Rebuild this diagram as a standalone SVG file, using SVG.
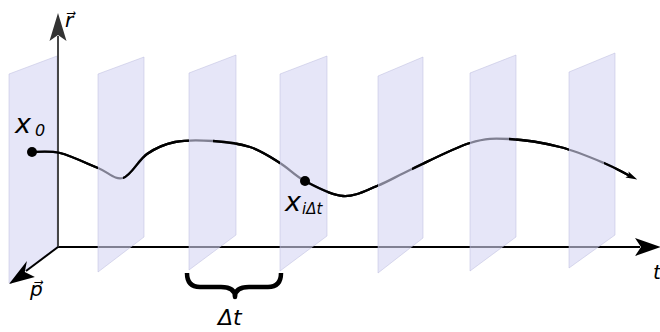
<svg xmlns="http://www.w3.org/2000/svg" width="660" height="332" viewBox="0 0 660 332">
<style>
.plane{fill:#d5d5f3;fill-opacity:0.6;stroke:#b8b8dc;stroke-opacity:0.6;stroke-width:0.8}
.curve{fill:none;stroke:#000;stroke-width:2.3}
.lbl{font-family:"DejaVu Sans",sans-serif;font-style:italic;fill:#000}
</style>
<defs>
<marker id="cend" viewBox="0 0 10 6" refX="2" refY="3" markerWidth="5" markerHeight="3" orient="auto" markerUnits="strokeWidth">
<path d="M0,0 L10,3 L0,6 L2,3 Z" fill="#000"/>
</marker>
<clipPath id="front">
<rect x="0" y="0" width="98" height="332"/>
<rect x="123" y="0" width="66" height="332"/>
<rect x="213" y="0" width="67" height="332"/>
<rect x="305" y="0" width="73" height="332"/>
<rect x="412" y="0" width="58" height="332"/>
<rect x="509" y="0" width="60" height="332"/>
<rect x="604" y="0" width="56" height="332"/>
</clipPath>
<path id="traj" d="M32,152 C36.7,152 49,150.3 60,153 C71,155.7 87.5,163.8 98,168 C108.5,172.2 114.8,180.3 123,178 C131.2,175.7 138.3,160 147,154 C155.7,148 164,144.2 175,142 C186,139.8 200.5,140.2 213,141 C225.5,141.8 238.8,143.3 250,147 C261.2,150.7 270.8,157.3 280,163 C289.2,168.7 294.5,175.5 305,181 C315.5,186.5 331,195.2 343,196 C355,196.8 365.5,190.5 377,186 C388.5,181.5 396.5,176.2 412,169 C427.5,161.8 453.8,148 470,143 C486.2,138 494,138.3 509,139 C524,139.7 544.2,143 560,147 C575.8,151 591.7,157.8 604,163 C616.3,168.2 622,172 629,175.5"/>
</defs>
<g id="t-axis">
<line x1="58" y1="247" x2="640" y2="247" stroke="#000" stroke-width="2"/>
<path d="M661,247 L635,256 L641,247 L635,238 Z" fill="#000"/>
</g>
<g id="trajectory-back">
<use href="#traj" class="curve"/>
</g>
<g id="planes">
<polygon id="plane1" class="plane" points="9,74 57,56 57,247 9,283"/>
<polygon id="plane2" class="plane" points="98,74 144,57 144,237 98,272"/>
<polygon id="plane3" class="plane" points="189,73 236,55 236,235 189,270"/>
<polygon id="plane4" class="plane" points="280,74 327,56 327,236 280,271"/>
<polygon id="plane5" class="plane" points="378,76 423,57 423,238 378,273"/>
<polygon id="plane6" class="plane" points="470,73 516,55 516,237 470,271"/>
<polygon id="plane7" class="plane" points="569,72 615,53 615,235 569,268"/>
</g>
<g id="r-p-axes">
<line x1="58" y1="247" x2="58" y2="36" stroke="#333" stroke-width="1.8"/>
<path d="M58,13 L66.5,41 L58,35 L49.5,41 Z" fill="#333"/>
<line x1="58" y1="247" x2="26" y2="271" stroke="#000" stroke-width="2"/>
<path d="M9,284 L26.9,261 L24.8,272 L34.9,277 Z" fill="#000"/>
</g>
<g id="trajectory-front">
<use href="#traj" class="curve" clip-path="url(#front)" marker-end="url(#cend)"/>
</g>
<g id="x0">
<circle cx="32" cy="152" r="5" fill="#000"/>
<text class="lbl" x="15" y="133" font-size="27">x</text>
<text class="lbl" x="35" y="136" font-size="16">0</text>
</g>
<g id="xi">
<circle cx="305" cy="181" r="5" fill="#000"/>
<text class="lbl" x="285" y="211" font-size="27">x</text>
<text class="lbl" x="302" y="214" font-size="15">iΔt</text>
</g>
<g id="labels">
<text class="lbl" x="65" y="27" font-size="20">r⃗</text>
<text class="lbl" x="30" y="296" font-size="20">p⃗</text>
<text class="lbl" x="653" y="279" font-size="20">t</text>
<text class="lbl" x="218" y="325" font-size="22">Δt</text>
</g>
<g id="brace">
<path d="M187,273 Q187,287 200,287 L221,287 Q235,287 235,297 Q235,287 249,287 L268,287 Q281,287 281,273" fill="none" stroke="#000" stroke-width="4.5" stroke-linejoin="round"/>
</g>
</svg>
